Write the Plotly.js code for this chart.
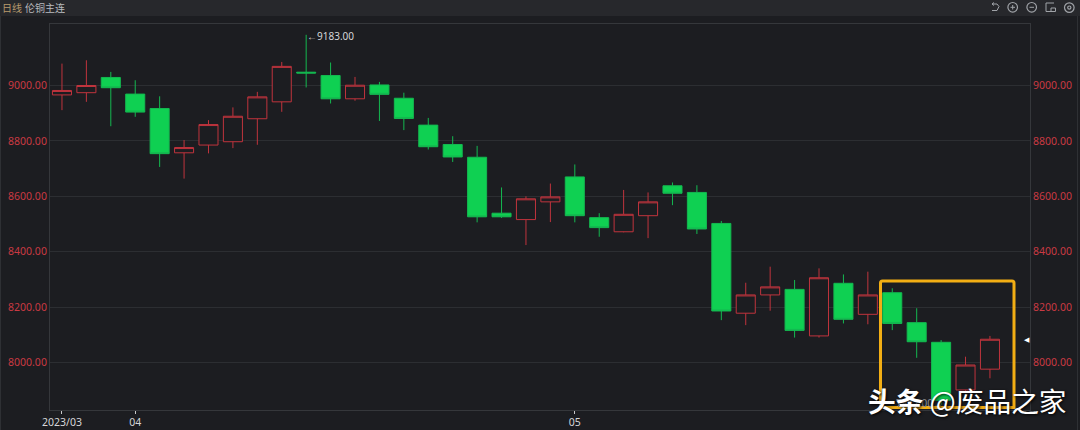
<!DOCTYPE html>
<html>
<head>
<meta charset="utf-8">
<script src="https://cdn.plot.ly/plotly-3.0.1.min.js"></script>
<style>html,body{margin:0;padding:0;background:#1c1d21;overflow:hidden}</style>
</head>
<body>
<div id="chart" style="width:1080px;height:430px"></div>
<script>
// K线数据
const days  = [0,1,2,3,4,5,6,7,8,9,10,11,12,13,14,15,16,17,18,19,20,21,22,23,24,25,26,27,28,29,30,31,32,33,34,35,36,37,38];
const opens = [8966,8974,9029,8969,8917,8757,8785,8797,8880,8941,9048,9036,8952,9002,8954,8857,8787,8741,8539,8516,8580,8670,8523,8472,8530,8638,8614,8502,8178,8244,8264,8096,8286,8174,8252,8144,8073,7901,7976];
const highs = [9079,9091,9049,9019,8961,8803,8875,8921,8977,9085,9183,9083,9031,9013,8974,8883,8817,8782,8632,8600,8646,8715,8539,8623,8614,8650,8640,8511,8288,8346,8298,8340,8318,8328,8268,8196,8081,8021,8096];
const lows  = [8911,8941,8853,8887,8706,8664,8755,8774,8786,8905,8993,8935,8945,8872,8839,8769,8724,8506,8522,8424,8507,8506,8454,8470,8449,8568,8464,8153,8135,8187,8090,8090,8141,8138,8117,8017,7847,7895,7943];
const closes= [8982,9000,8992,8904,8754,8776,8859,8889,8959,9069,9045,8952,9001,8968,8881,8779,8742,8526,8526,8591,8598,8530,8487,8535,8580,8611,8482,8186,8244,8273,8116,8306,8156,8244,8141,8075,7864,7991,8084];

const tickDays   = [0, 3, 21];
const tickLabels = ['2023/03', '04', '05'];
const priceTicks = [8000, 8200, 8400, 8600, 8800, 9000];

const BG = '#1c1d21', RED = '#c0343d', LABEL_RED = '#c93a43', GREEN = '#0fd052', WICK_GREEN = '#14b850', GRID = '#2c2e32', EDGE = '#35373b';
const CN = '"Noto Sans CJK SC", "Noto Sans", sans-serif';
const NUM = '"Noto Sans", "Open Sans", sans-serif';

// 像素 -> paper 坐标
const px = X => (X - 50) / 980;
const py = Y => (410 - Y) / 386;
const ICON = '#a0a3a8';

function ring(cx, cy, r) {
  return { type: 'circle', xref: 'paper', yref: 'paper', x0: px(cx - r), x1: px(cx + r), y0: py(cy + r), y1: py(cy - r),
           line: { color: ICON, width: 1.2 } };
}
function seg(x0, y0, x1, y1, color) {
  return { type: 'line', xref: 'paper', yref: 'paper', x0: px(x0), x1: px(x1), y0: py(y0), y1: py(y1),
           line: { color: color || ICON, width: 1 } };
}

const shapes = [
  // 顶部工具条
  { type: 'rect', xref: 'paper', yref: 'paper', x0: px(0), x1: px(1080), y0: py(16), y1: py(0), fillcolor: '#27282c', line: { width: 0 }, layer: 'below' },
  // 窗口左右边线
  seg(0.5, 16, 0.5, 430, '#2e3034'), seg(1077.5, 16, 1077.5, 430, '#2e3034'),
  // 图标
  seg(992, 4, 997, 4), seg(992, 4, 994, 2.5), seg(992, 4, 994, 5.5), seg(997, 4, 999, 6.5), seg(999, 6.5, 997, 10.5), seg(997, 10.5, 992, 10.5),
  ring(1012.7, 7.3, 4.8), seg(1010.5, 7.3, 1015, 7.3), seg(1012.7, 5, 1012.7, 9.5),
  ring(1031.7, 7.3, 4.8), seg(1029.5, 7.3, 1034, 7.3),
  seg(1046, 3, 1054, 3), seg(1046, 3, 1046, 11.5), seg(1046, 11.5, 1051, 11.5),
  { type: 'rect', xref: 'paper', yref: 'paper', x0: px(1051), x1: px(1055.5), y0: py(11.5), y1: py(8), line: { color: ICON, width: 1 } },
  ring(1069.3, 7.6, 4.8), ring(1069.3, 7.6, 1.6),
  // 黄色框
  { type: 'path', xref: 'paper', yref: 'paper',
    path: `M ${px(880.5)} ${py(283)} Q ${px(880.5)} ${py(281)} ${px(882.5)} ${py(281)} L ${px(1012)} ${py(281)} Q ${px(1014)} ${py(281)} ${px(1014)} ${py(283)} L ${px(1014)} ${py(407.5)} L ${px(880.5)} ${py(407.5)} Z`,
    line: { color: '#f2ae14', width: 3 } },
];

const axisBase = {
  range: [7828.6, 9222], tickvals: priceTicks, tickformat: '.2f',
  tickfont: { family: NUM, size: 10.5, color: LABEL_RED },
  ticks: '', zeroline: false, fixedrange: true,
};

const annotations = [
  { xref: 'paper', yref: 'paper', x: px(0), y: py(7.5), xanchor: 'left', yanchor: 'middle', showarrow: false,
    text: '日线', font: { family: CN, size: 10, color: '#b89a6c' } },
  { xref: 'paper', yref: 'paper', x: px(23), y: py(7.5), xanchor: 'left', yanchor: 'middle', showarrow: false,
    text: '伦铜主连', font: { family: CN, size: 10, color: '#b9bbbf' } },
  { x: days[10], y: highs[10], xanchor: 'left', yanchor: 'middle', xshift: -1, yshift: -1, showarrow: false,
    text: '←' + highs[10].toFixed(2), font: { family: NUM, size: 10, color: '#d5d6d8' } },
  { x: days[36], y: lows[36], xanchor: 'right', yanchor: 'middle', xshift: 4, yshift: 2, showarrow: false,
    text: lows[36].toFixed(2) + '→', font: { family: NUM, size: 10, color: '#8c8f94' } },
  { xref: 'paper', x: px(1027), y: closes[38], xanchor: 'center', yanchor: 'middle', showarrow: false,
    text: '◀', font: { family: NUM, size: 7, color: '#ffffff' } },
  { xref: 'paper', yref: 'paper', x: px(866), y: py(400), xanchor: 'left', yanchor: 'middle', showarrow: false,
    text: '<b>头条</b> @废品之家', font: { family: CN, size: 27.7, color: '#ffffff', shadow: '1px 1px 3px #000' } },
];

Plotly.newPlot('chart', [{
  type: 'candlestick', x: days, open: opens, high: highs, low: lows, close: closes,
  increasing: { line: { color: RED, width: 1 }, fillcolor: BG },
  decreasing: { line: { color: WICK_GREEN, width: 1 }, fillcolor: GREEN },
  whiskerwidth: 0, hoverinfo: 'skip',
}, {
  // 只为让右侧坐标轴显示
  type: 'scatter', mode: 'lines', x: days, y: closes, yaxis: 'y2',
  line: { width: 0, color: 'rgba(0,0,0,0)' }, hoverinfo: 'skip',
}], {
  width: 1080, height: 430,
  paper_bgcolor: BG, plot_bgcolor: BG,
  margin: { l: 50, r: 50, t: 24, b: 20, pad: 0 },
  showlegend: false, boxgap: 0.22, boxgroupgap: 0,
  xaxis: {
    range: [-0.49, 39.64], tickvals: tickDays, ticktext: tickLabels,
    rangeslider: { visible: false }, showgrid: false, zeroline: false,
    ticks: 'outside', ticklen: 3, tickcolor: '#c8c9cb', tickwidth: 1, ticklabelstandoff: -1,
    tickfont: { family: NUM, size: 10.5, color: '#d5d6d8' },
    showline: true, linecolor: EDGE, linewidth: 1, mirror: true, fixedrange: true,
  },
  yaxis: { ...axisBase, side: 'left', showgrid: true, gridcolor: GRID, gridwidth: 1, showline: true, linecolor: EDGE },
  yaxis2: { ...axisBase, side: 'right', overlaying: 'y', showgrid: false, showline: true, linecolor: EDGE },
  shapes, annotations,
}, { displayModeBar: false, responsive: false });
</script>
</body>
</html>
